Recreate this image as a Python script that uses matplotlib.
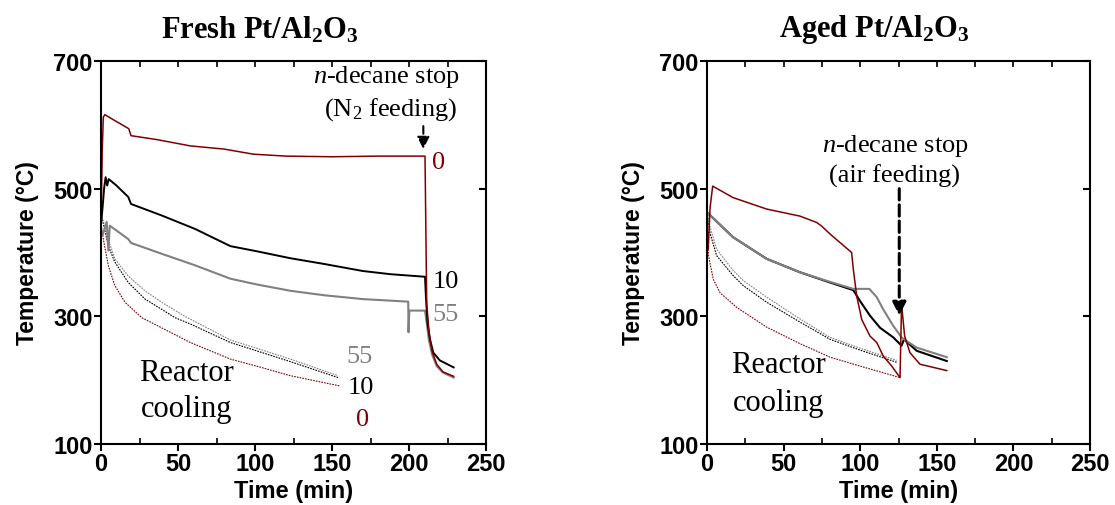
import matplotlib
matplotlib.use("Agg")
import matplotlib.pyplot as plt

# ---- data (time in min, temperature in degC) ----
# fresh catalyst, solid = reaction, dotted = reactor cooling
fresh_0_t = [0, 0.8, 1.5, 2.5, 8, 18, 19.5, 36, 58, 80, 99, 120, 150, 180, 210.4, 211.5, 213, 215, 218, 222, 229]
fresh_0_T = [437, 560, 612, 616, 608, 594, 583, 577, 567, 562, 554, 551, 550, 551, 551, 320, 275, 245, 225, 213, 206]
fresh_10_t = [0, 1, 2, 3, 4, 5, 6, 10, 17.7, 19.5, 39.4, 61, 84, 101, 123, 145, 170, 188, 210.4, 211, 212, 213.6, 215.8, 220, 229]
fresh_10_T = [445, 470, 500, 518, 505, 515, 513, 505, 487, 476, 458, 437, 410, 402, 391, 382, 371, 366, 362, 330, 290, 264, 243, 231, 220]
fresh_55_t = [0, 0.9, 3.7, 4.8, 5.7, 17.7, 19.5, 39.4, 61, 84, 101, 123, 145, 170, 199.5, 199.7, 200.2, 210.4, 211.5, 213, 215, 218, 222, 229]
fresh_55_T = [440, 426, 448, 403, 442, 421, 415, 398, 380, 359, 350, 340, 333, 327, 323, 275, 309, 309, 290, 262, 240, 222, 212, 204]

cool_fresh_0_t = [0, 1.5, 4.8, 9, 15.6, 26.4, 39.4, 58, 84, 101, 123, 155]
cool_fresh_0_T = [440, 421, 379, 348, 322, 298, 282, 259, 233, 222, 207, 191]
cool_fresh_10_t = [0, 2, 4.8, 9, 17.7, 28.6, 39.4, 48, 58, 84, 101, 123, 154]
cool_fresh_10_T = [460, 440, 410, 385, 353, 327, 311, 298, 288, 259, 246, 229, 204]
cool_fresh_55_t = [0, 2, 4.8, 9, 17.7, 28.6, 39.4, 54.5, 84, 101, 123, 154]
cool_fresh_55_T = [460, 445, 420, 390, 363, 340, 322, 300, 263, 250, 233, 207]

# aged catalyst
aged_0_t = [0, 0.8, 2, 3.7, 17, 39, 60.7, 71.6, 75, 80.3, 94.4, 95.5, 97.7, 101, 106.4, 110.8, 115, 120.6, 126, 127, 129, 132.5, 139, 156.5]
aged_0_T = [445, 405, 470, 504, 486, 468, 457, 447, 441, 429, 400, 374, 332, 295, 269, 259, 238, 222, 204, 319, 269, 243, 225, 215]
aged_10_t = [0, 17, 39, 60.7, 80.3, 95.5, 99.9, 106.4, 113, 121.6, 127, 128.6, 136.9, 156.5]
aged_10_T = [463, 424, 390, 369, 353, 341, 324, 301, 282, 267, 254, 264, 246, 230]
aged_55_t = [0, 17, 39, 60.7, 80.3, 95.5, 106, 110.8, 115, 121.6, 127, 128.6, 136.9, 156.5]
aged_55_T = [463, 424, 390, 369, 354, 343, 343, 330, 311, 285, 267, 264, 251, 236]

cool_aged_0_t = [0, 1, 4.1, 8.5, 19.4, 39, 60, 80.3, 100, 126]
cool_aged_0_T = [440, 395, 358, 337, 314, 283, 258, 236, 222, 204]
cool_aged_10_t = [0, 2, 6.3, 17, 23.7, 39, 60, 80.3, 100, 123.8]
cool_aged_10_T = [463, 430, 395, 364, 348, 322, 292, 264, 247, 228]
cool_aged_55_t = [0, 2, 6.3, 17, 23.7, 39, 60, 80.3, 100, 123.8]
cool_aged_55_T = [463, 440, 405, 372, 356, 330, 297, 267, 250, 231]

RED = "#800000"
GRAY = "#808080"
BLACK = "#000000"

plt.rcParams["mathtext.fontset"] = "custom"
plt.rcParams["mathtext.rm"] = "Liberation Serif"
plt.rcParams["mathtext.it"] = "Liberation Serif:italic"
plt.rcParams["mathtext.bf"] = "Liberation Serif:bold"

SERIF = "Liberation Serif"
SANS = "Liberation Sans"

fig = plt.figure(figsize=(11.15, 5.06), dpi=100)
ax1 = fig.add_axes([101 / 1115, 61 / 506, 385 / 1115, 383 / 506])
ax2 = fig.add_axes([707 / 1115, 61 / 506, 383 / 1115, 383 / 506])

dots = (0, (1.5, 1.0))


def style_axes(ax):
    ax.set_xlim(0, 250)
    ax.set_ylim(100, 700)
    ax.set_xticks([0, 50, 100, 150, 200, 250])
    ax.set_xticks([25, 75, 125, 175, 225], minor=True)
    ax.set_yticks([100, 300, 500, 700])
    for s in ax.spines.values():
        s.set_linewidth(1.5)
    ax.tick_params(which="major", direction="out", length=5, width=1.5,
                   labelsize=17, pad=1)
    ax.tick_params(which="minor", direction="in", length=4, width=1.2)
    for lab in ax.get_xticklabels() + ax.get_yticklabels():
        lab.set_fontfamily(SANS)
        lab.set_fontweight("bold")
    top = ax.secondary_xaxis("top")
    top.set_xticks([0, 25, 50, 75, 100, 125, 150, 175, 200, 225, 250])
    top.tick_params(direction="in", length=4, width=1.2, labeltop=False)
    top.spines["top"].set_visible(False)
    right = ax.secondary_yaxis("right")
    right.set_yticks([100, 300, 500, 700])
    right.tick_params(direction="in", length=5, width=1.5, labelright=False)
    right.spines["right"].set_visible(False)
    ax.set_xlabel("Time (min)", fontfamily=SANS, fontweight="bold", fontsize=17, labelpad=3)
    ax.set_ylabel("Temperature (\u00b0C)", fontfamily=SANS, fontweight="bold", fontsize=16.5, labelpad=10)


# ---- fresh ----
ax1.plot(cool_fresh_0_t, cool_fresh_0_T, color=RED, lw=0.8, ls=dots)
ax1.plot(cool_fresh_10_t, cool_fresh_10_T, color=BLACK, lw=0.8, ls=dots)
ax1.plot(cool_fresh_55_t, cool_fresh_55_T, color=GRAY, lw=0.8, ls=dots)
ax1.plot(fresh_55_t, fresh_55_T, color=GRAY, lw=1.5)
ax1.plot(fresh_10_t, fresh_10_T, color=BLACK, lw=1.4)
ax1.plot(fresh_0_t, fresh_0_T, color=RED, lw=1.1)
style_axes(ax1)

ax1.text(185, 676, "$n$-decane stop", fontfamily=SERIF, fontsize=19, ha="center", va="center")
ax1.text(188, 625, "(N$_2$ feeding)", fontfamily=SERIF, fontsize=19, ha="center", va="center")
ax1.annotate("", xy=(209.3, 562), xytext=(209.3, 598),
             arrowprops=dict(arrowstyle="-|>", color="black", lw=1.5, ls="--",
                             mutation_scale=18, shrinkA=0, shrinkB=0))
ax1.text(219, 541, "0", color=RED, fontfamily=SERIF, fontsize=19, ha="center", va="center")
ax1.text(224, 356, "10", color=BLACK, fontfamily=SERIF, fontsize=19, ha="center", va="center")
ax1.text(223.5, 304, "55", color=GRAY, fontfamily=SERIF, fontsize=19, ha="center", va="center")
ax1.text(168, 238, "55", color=GRAY, fontfamily=SERIF, fontsize=19, ha="center", va="center")
ax1.text(169, 189, "10", color=BLACK, fontfamily=SERIF, fontsize=19, ha="center", va="center")
ax1.text(170, 139, "0", color=RED, fontfamily=SERIF, fontsize=19, ha="center", va="center")
ax1.text(55.6, 212, "Reactor", fontfamily=SERIF, fontsize=22, ha="center", va="center")
ax1.text(55.6, 155, "cooling", fontfamily=SERIF, fontsize=22, ha="center", va="center")

# ---- aged ----
ax2.plot(cool_aged_0_t, cool_aged_0_T, color=RED, lw=0.8, ls=dots)
ax2.plot(cool_aged_10_t, cool_aged_10_T, color=BLACK, lw=0.8, ls=dots)
ax2.plot(cool_aged_55_t, cool_aged_55_T, color=GRAY, lw=0.8, ls=dots)
ax2.plot(aged_10_t, aged_10_T, color=BLACK, lw=1.5)
ax2.plot(aged_55_t, aged_55_T, color=GRAY, lw=1.5)
ax2.plot(aged_0_t, aged_0_T, color=RED, lw=1.1)
style_axes(ax2)

ax2.text(122.7, 569, "$n$-decane stop", fontfamily=SERIF, fontsize=19, ha="center", va="center")
ax2.text(122.7, 521, "(air feeding)", fontfamily=SERIF, fontsize=19, ha="center", va="center")
ax2.annotate("", xy=(125.5, 301), xytext=(125.5, 500),
             arrowprops=dict(arrowstyle="-|>", color="black", lw=2.2, ls="--",
                             mutation_scale=20, shrinkA=0, shrinkB=0))
ax2.text(46.5, 225, "Reactor", fontfamily=SERIF, fontsize=22, ha="center", va="center")
ax2.text(46.5, 165, "cooling", fontfamily=SERIF, fontsize=22, ha="center", va="center")

fig.text(260 / 1115, 1 - 30 / 506, r"Fresh Pt/Al$_\mathbf{2}$O$_\mathbf{3}$", fontfamily=SERIF,
         fontweight="bold", fontsize=22, ha="center", va="center")
fig.text(874 / 1115, 1 - 30 / 506, r"Aged Pt/Al$_\mathbf{2}$O$_\mathbf{3}$", fontfamily=SERIF,
         fontweight="bold", fontsize=22, ha="center", va="center")

fig.savefig("out.png", dpi=100)
